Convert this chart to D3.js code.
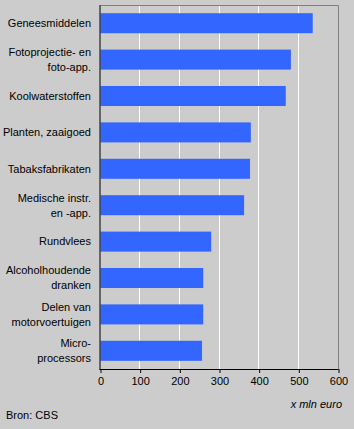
<!DOCTYPE html>
<html><head><meta charset="utf-8">
<script src="https://cdn.jsdelivr.net/npm/d3@7"></script>
<style>html,body{margin:0;padding:0;background:#cccccc;}svg{display:block;}</style>
</head><body>
<svg id="c" width="354" height="429"></svg>
<script>
const categories = [
  ["Geneesmiddelen"],
  ["Fotoprojectie- en", "foto-app."],
  ["Koolwaterstoffen"],
  ["Planten, zaaigoed"],
  ["Tabaksfabrikaten"],
  ["Medische instr.", "en -app."],
  ["Rundvlees"],
  ["Alcoholhoudende", "dranken"],
  ["Delen van", "motorvoertuigen"],
  ["Micro-", "processors"]
];
const values = [535, 480, 467, 379, 377, 362, 279, 259, 259, 256];
const ticks = [0, 100, 200, 300, 400, 500, 600];
const unitLabel = "x mln euro";
const source = "Bron: CBS";

const svg = d3.select("#c");
const font = "'Liberation Sans', Arial, sans-serif";
const L = 100.5, R = 338.5, T = 5, B = 369;
const x = d3.scaleLinear().domain([0, 600]).range([L, R]);
const y = d3.scaleBand().domain(d3.range(categories.length)).range([T, B]).paddingInner(0.45).paddingOuter(0.225);

svg.append("rect").attr("width", 354).attr("height", 429).attr("fill", "#cccccc");

// gridlines
svg.append("g").selectAll("line").data(ticks.filter(t => t > 0 && t < 600)).join("line")
  .attr("x1", d => Math.round(x(d)) - 0.5).attr("x2", d => Math.round(x(d)) - 0.5)
  .attr("y1", T).attr("y2", B).attr("stroke", "#ffffff").attr("stroke-width", 1);

// frame top/right
svg.append("path").attr("d", `M${L},${T + 0.5}H${Math.round(R) - 0.5}V${B}`)
  .attr("fill", "none").attr("stroke", "#808080").attr("stroke-width", 1);

// bars
svg.append("g").selectAll("rect").data(values).join("rect")
  .attr("x", x(0)).attr("y", (d, i) => y(i))
  .attr("width", d => x(d) - x(0)).attr("height", y.bandwidth())
  .attr("fill", "#3366ff");

// x axis
const xa = svg.append("g").attr("transform", `translate(0,${B})`)
  .call(d3.axisBottom(x).tickValues(ticks).tickSize(4).tickPadding(4).tickFormat(d3.format("d")));
xa.select(".domain").attr("stroke", "#000").attr("d", `M${L - 1},0.5H${R}`);
xa.selectAll(".tick line").attr("stroke", "#000");
xa.selectAll(".tick text").attr("font-family", font).attr("font-size", 11).attr("fill", "#000");

// y axis line
svg.append("line").attr("x1", L - 0.5).attr("x2", L - 0.5).attr("y1", T).attr("y2", B + 1)
  .attr("stroke", "#000");

// category labels
const lg = svg.append("g");
categories.forEach((lines, i) => {
  const cy = y(i) + y.bandwidth() / 2;
  const t = lg.append("text").attr("x", 91).attr("text-anchor", "end")
    .attr("font-family", font).attr("font-size", 11).attr("fill", "#000");
  const lh = 15;
  const start = cy - (lines.length - 1) * lh / 2;
  lines.forEach((s, j) => {
    t.append("tspan").attr("x", 91).attr("y", start + j * lh).attr("dy", "0.35em").text(s);
  });
});

svg.append("text").attr("x", 342).attr("y", 404).attr("dy", "0.35em").attr("text-anchor", "end")
  .attr("font-family", font).attr("font-size", 11).attr("font-style", "italic").attr("fill", "#000").text(unitLabel);
svg.append("text").attr("x", 6).attr("y", 415).attr("dy", "0.35em")
  .attr("font-family", font).attr("font-size", 11).attr("fill", "#000").text(source);
</script>
</body></html>
